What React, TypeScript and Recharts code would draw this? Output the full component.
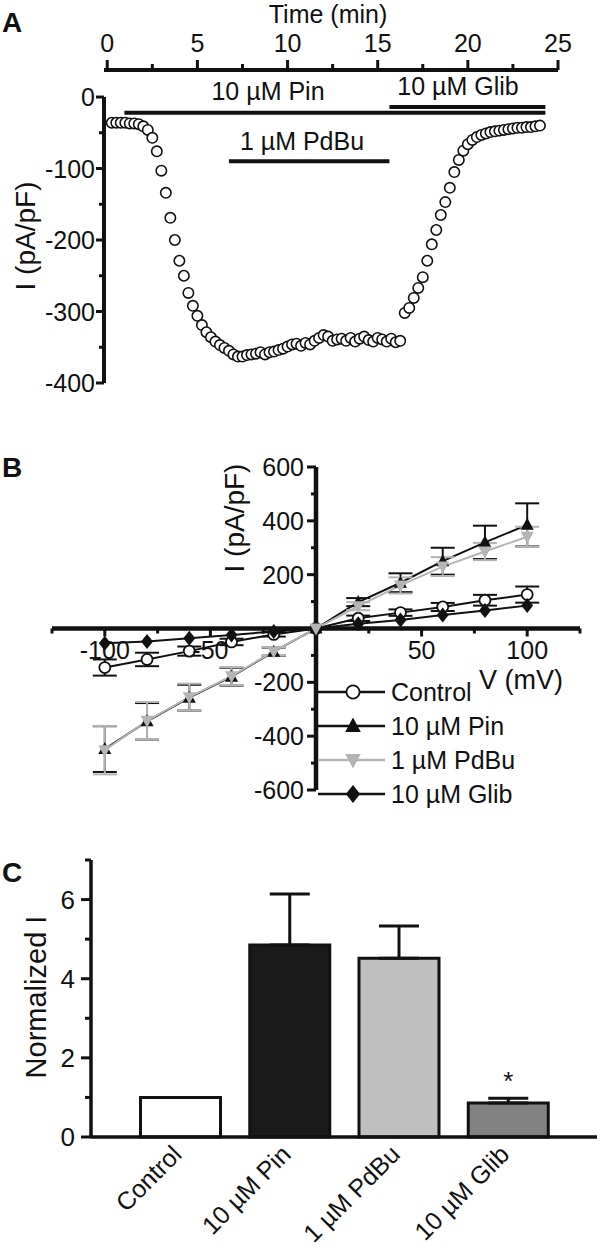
import React from "react";
import {
  ScatterChart,
  Scatter,
  LineChart,
  Line,
  BarChart,
  Bar,
  Cell,
  XAxis,
  YAxis,
  ReferenceLine,
  ErrorBar,
  Legend,
  LabelList,
} from "recharts";

/* ------------------------------------------------------------------ */
/*  Data                                                               */
/* ------------------------------------------------------------------ */

// Panel A – time course
const timeMin = [
  0.25, 0.5, 0.75, 1, 1.25, 1.5, 1.75, 2, 2.25, 2.5, 2.75, 3, 3.25, 3.5, 3.75, 4,
  4.25, 4.5, 4.75, 5, 5.25, 5.5, 5.75, 6, 6.25, 6.5, 6.75, 7, 7.25, 7.5, 7.75, 8,
  8.25, 8.5, 8.75, 9, 9.25, 9.5, 9.75, 10, 10.25, 10.5, 10.75, 11, 11.25, 11.5, 11.75, 12,
  12.25, 12.5, 12.75, 13, 13.25, 13.5, 13.75, 14, 14.25, 14.5, 14.75, 15, 15.25, 15.5, 15.75, 16,
  16.25, 16.5, 16.75, 17, 17.25, 17.5, 17.75, 18, 18.25, 18.5, 18.75, 19, 19.25, 19.5, 19.75, 20,
  20.25, 20.5, 20.75, 21, 21.25, 21.5, 21.75, 22, 22.25, 22.5, 22.75, 23, 23.25, 23.5, 23.75, 24,
];
const currentPaPf = [
  -36, -36, -36, -36, -37, -37, -38, -41, -46, -57, -76, -103, -134, -169, -200, -229,
  -250, -274, -292, -306, -319, -329, -336, -342, -347, -351, -355, -360, -363, -363, -361, -360,
  -359, -357, -360, -357, -356, -354, -352, -349, -346, -345, -348, -344, -346, -341, -337, -333,
  -335, -341, -339, -338, -341, -337, -342, -338, -335, -340, -342, -337, -339, -342, -338, -343,
  -341, -302, -295, -281, -267, -252, -229, -206, -186, -165, -147, -127, -105, -88, -75, -66,
  -60, -56, -53, -51, -49, -48, -47, -46, -45, -44, -43, -43, -42, -42, -41, -40,
];
const timeTicks = [0, 2.5, 5, 7.5, 10, 12.5, 15, 17.5, 20, 22.5, 25];
const currentTicksA = [0, -50, -100, -150, -200, -250, -300, -350, -400];

// drug application bars (start / end in min, drawn at a level in pA/pF)
const drugNames = ["10 µM Pin", "10 µM Glib", "1 µM PdBu"];
const drugStart = [0.95, 15.65, 6.75];
const drugEnd = [24.3, 24.3, 15.65];
const drugLevel = [-22, -14, -90];

// Panel B – I/V relationship
const voltageMv = [-100, -80, -60, -40, -20, 0, 20, 40, 60, 80, 100];
const controlI = [-145, -115, -84, -50, -22, 0, 38, 59, 80, 105, 126];
const controlSem = [30, 25, 17, 12, 8, 0, 10, 12, 15, 20, 30];
const pinI = [-448, -345, -257, -179, -86, 0, 98, 170, 250, 320, 385];
const pinSem = [85, 68, 48, 33, 15, 0, 15, 35, 50, 62, 80];
const pdbuI = [-452, -343, -255, -177, -85, 0, 83, 160, 230, 286, 341];
const pdbuSem = [90, 70, 50, 33, 15, 0, 15, 30, 35, 32, 37];
const glibI = [-55, -48, -36, -24, -11, 0, 18, 32, 50, 67, 85];
const voltageTicks = [-125, -100, -75, -50, -25, 25, 50, 75, 100, 125];
const currentTicksB = [-600, -500, -400, -300, -200, -100, 100, 200, 300, 400, 500, 600];

// Panel C – normalized current
const groups = ["Control", "10 µM Pin", "1 µM PdBu", "10 µM Glib"];
const normalizedI = [1.0, 4.85, 4.52, 0.86];
const normalizedSem = [0, 1.29, 0.81, 0.12];
const significance = ["", "", "", "*"];
const normTicks = [0, 1, 2, 3, 4, 5, 6, 7];

/* ------------------------------------------------------------------ */
/*  Styling                                                            */
/* ------------------------------------------------------------------ */

const FONT = "'Liberation Sans', Arial, Helvetica, sans-serif";
const INK = "#111";
const GREY = "#b4b4b4";
const BAR_FILLS = ["#ffffff", "#1a1a1a", "#bfbfbf", "#828282"];

const B_PLOT_W = 528;
const B_PLOT_H = 323;

/* ------------------------------------------------------------------ */
/*  Ticks and markers                                                  */
/* ------------------------------------------------------------------ */

function TimeTick(props: any) {
  const { x, y, payload } = props;
  const major = payload.value % 5 === 0;
  return (
    <g>
      <line x1={x} x2={x} y1={y} y2={y - (major ? 10 : 6)} stroke={INK} strokeWidth={3} />
      {major && (
        <text x={x} y={y - 18} textAnchor="middle" fontSize={25} fontFamily={FONT} fill={INK}>
          {payload.value}
        </text>
      )}
    </g>
  );
}

function CurrentTickA(props: any) {
  const { x, y, payload } = props;
  const major = payload.value % 100 === 0;
  return (
    <g>
      <line x1={x - (major ? 8 : 5)} x2={x} y1={y} y2={y} stroke={INK} strokeWidth={3} />
      {major && (
        <text x={x - 9} y={y + 9} textAnchor="end" fontSize={25} fontFamily={FONT} fill={INK}>
          {payload.value}
        </text>
      )}
    </g>
  );
}

// axes of panel B cross at the origin, so ticks are moved to the zero lines
function VoltageTick(props: any) {
  const { x, y, payload } = props;
  const y0 = y - B_PLOT_H / 2;
  const major = payload.value % 50 === 0;
  return (
    <g>
      <line x1={x} x2={x} y1={y0} y2={y0 + (major ? 8 : 5)} stroke={INK} strokeWidth={3} />
      {major && (
        <text x={x} y={y0 + 30} textAnchor="middle" fontSize={25} fontFamily={FONT} fill={INK}>
          {payload.value}
        </text>
      )}
    </g>
  );
}

function CurrentTickB(props: any) {
  const { x, y, payload } = props;
  const x0 = x + B_PLOT_W / 2;
  const major = payload.value % 200 === 0;
  return (
    <g>
      <line x1={x0 - (major ? 9 : 5)} x2={x0} y1={y} y2={y} stroke={INK} strokeWidth={3} />
      {major && (
        <text x={x0 - 12} y={y + 9} textAnchor="end" fontSize={25} fontFamily={FONT} fill={INK}>
          {payload.value}
        </text>
      )}
    </g>
  );
}

function NormTick(props: any) {
  const { x, y, payload } = props;
  const major = payload.value % 2 === 0;
  return (
    <g>
      <line x1={x - (major ? 10 : 6)} x2={x} y1={y} y2={y} stroke={INK} strokeWidth={3} />
      {major && (
        <text x={x - 16} y={y + 9} textAnchor="end" fontSize={26} fontFamily={FONT} fill={INK}>
          {payload.value}
        </text>
      )}
    </g>
  );
}

function GroupTick(props: any) {
  const { x, y, payload } = props;
  const ax = x + 3;
  const ay = y + 19;
  return (
    <text
      x={ax}
      y={ay}
      transform={`rotate(-45 ${ax} ${ay})`}
      textAnchor="end"
      fontSize={25}
      fontFamily={FONT}
      fill={INK}
    >
      {payload.value}
    </text>
  );
}

type MarkerKind = "circle" | "up" | "down" | "diamond";

function Marker({
  kind,
  cx,
  cy,
  color,
  s = 1,
}: {
  kind: MarkerKind;
  cx: number;
  cy: number;
  color: string;
  s?: number;
}) {
  if (kind === "circle")
    return <circle cx={cx} cy={cy} r={5.5 * s} fill="#fff" stroke={INK} strokeWidth={1.8} />;
  if (kind === "up")
    return (
      <path
        d={`M${cx},${cy - 7 * s} L${cx + 6.5 * s},${cy + 5 * s} L${cx - 6.5 * s},${cy + 5 * s} Z`}
        fill={color}
      />
    );
  if (kind === "down")
    return (
      <path
        d={`M${cx},${cy + 7 * s} L${cx + 6.5 * s},${cy - 5 * s} L${cx - 6.5 * s},${cy - 5 * s} Z`}
        fill={color}
      />
    );
  return (
    <path
      d={`M${cx},${cy - 7.5 * s} L${cx + 6 * s},${cy} L${cx},${cy + 7.5 * s} L${cx - 6 * s},${cy} Z`}
      fill={color}
    />
  );
}

const dotOf = (kind: MarkerKind, color: string) => (p: any) =>
  <Marker key={`${kind}-${p.index}`} kind={kind} cx={p.cx} cy={p.cy} color={color} />;

const IV_SERIES: { key: string; name: string; kind: MarkerKind; color: string }[] = [
  { key: "control", name: "Control", kind: "circle", color: INK },
  { key: "pin", name: "10 µM Pin", kind: "up", color: INK },
  { key: "pdbu", name: "1 µM PdBu", kind: "down", color: GREY },
  { key: "glib", name: "10 µM Glib", kind: "diamond", color: INK },
];

function IvLegend() {
  return (
    <svg width={240} height={140}>
      {IV_SERIES.map((s, i) => {
        const ry = 17 + i * 34;
        return (
          <g key={s.key}>
            <line x1={0} x2={67} y1={ry} y2={ry} stroke={s.color} strokeWidth={2.5} />
            <Marker kind={s.kind} cx={35} cy={ry} color={s.color} s={1.2} />
            <text x={73} y={ry + 9} fontSize={25} fontFamily={FONT} fill={INK}>
              {s.name}
            </text>
          </g>
        );
      })}
    </svg>
  );
}

/* ------------------------------------------------------------------ */
/*  Component                                                          */
/* ------------------------------------------------------------------ */

export default function App() {
  const timeCourse = timeMin.map((t, i) => ({ t, i: currentPaPf[i] }));

  const ivData = voltageMv.map((v, i) => ({
    v,
    control: controlI[i],
    controlErr: controlSem[i],
    pin: pinI[i],
    pinErr: pinSem[i],
    pdbu: pdbuI[i],
    pdbuErr: pdbuSem[i],
    glib: glibI[i],
  }));

  const barData = groups.map((name, i) => ({
    name,
    value: normalizedI[i],
    err: [0, normalizedSem[i]],
    sig: significance[i],
  }));

  const textStyle = { fontFamily: FONT, fill: INK };

  return (
    <div style={{ position: "absolute", left: 0, top: 0, width: 600, height: 1249, background: "#fff" }}>
      {/* ---------------- A ---------------- */}
      <div style={{ position: "absolute", left: 0, top: 0 }}>
        <ScatterChart width={600} height={400} margin={{ top: 40, right: 42, bottom: 17, left: 44 }}>
          <XAxis
            type="number"
            dataKey="t"
            orientation="top"
            domain={[-0.18, 25]}
            ticks={timeTicks}
            height={30}
            tickSize={0}
            tickMargin={0}
            tick={TimeTick}
            axisLine={{ stroke: INK, strokeWidth: 4 }}
            tickLine={false}
          />
          <YAxis
            type="number"
            dataKey="i"
            domain={[-400, 37.8]}
            ticks={currentTicksA}
            width={60}
            tickSize={0}
            tickMargin={0}
            tick={CurrentTickA}
            axisLine={false}
            tickLine={false}
            allowDataOverflow
          />
          <ReferenceLine
            segment={[{ x: -0.18, y: 0 }, { x: -0.18, y: -400 }]}
            stroke={INK}
            strokeWidth={4}
          />
          {drugNames.map((d, k) => (
            <ReferenceLine
              key={d}
              segment={[{ x: drugStart[k], y: drugLevel[k] }, { x: drugEnd[k], y: drugLevel[k] }]}
              stroke={INK}
              strokeWidth={4}
            />
          ))}
          <Scatter
            data={timeCourse}
            isAnimationActive={false}
            shape={(p: any) => (
              <circle cx={p.cx} cy={p.cy} r={5.2} fill="#fff" stroke={INK} strokeWidth={1.6} />
            )}
          />
        </ScatterChart>
      </div>

      {/* ---------------- B ---------------- */}
      <div style={{ position: "absolute", left: 0, top: 440 }}>
        <LineChart width={600} height={380} data={ivData} margin={{ top: 27, right: 20, bottom: 0, left: 0 }}>
          <XAxis
            type="number"
            dataKey="v"
            domain={[-125, 125]}
            ticks={voltageTicks}
            height={30}
            tickSize={0}
            tickMargin={0}
            tick={VoltageTick}
            axisLine={false}
            tickLine={false}
          />
          <YAxis
            type="number"
            domain={[-600, 600]}
            ticks={currentTicksB}
            width={52}
            tickSize={0}
            tickMargin={0}
            tick={CurrentTickB}
            axisLine={false}
            tickLine={false}
          />
          <ReferenceLine y={0} stroke={INK} strokeWidth={4.5} />
          <ReferenceLine x={0} stroke={INK} strokeWidth={4.5} />
          <Line
            dataKey="control"
            stroke={INK}
            strokeWidth={2}
            dot={dotOf("circle", INK)}
            activeDot={false}
            isAnimationActive={false}
          >
            <ErrorBar dataKey="controlErr" direction="y" width={12} stroke={INK} strokeWidth={2} />
          </Line>
          <Line
            dataKey="glib"
            stroke={INK}
            strokeWidth={2}
            dot={dotOf("diamond", INK)}
            activeDot={false}
            isAnimationActive={false}
          />
          <Line
            dataKey="pin"
            stroke={INK}
            strokeWidth={2}
            dot={dotOf("up", INK)}
            activeDot={false}
            isAnimationActive={false}
          >
            <ErrorBar dataKey="pinErr" direction="y" width={12} stroke={INK} strokeWidth={2} />
          </Line>
          <Line
            dataKey="pdbu"
            stroke={GREY}
            strokeWidth={2}
            dot={dotOf("down", GREY)}
            activeDot={false}
            isAnimationActive={false}
          >
            <ErrorBar dataKey="pdbuErr" direction="y" width={12} stroke={GREY} strokeWidth={2} />
          </Line>
          <Legend
            layout="vertical"
            align="center"
            verticalAlign="middle"
            wrapperStyle={{ left: 318, top: 235, width: 240, height: 140 }}
            content={IvLegend}
          />
        </LineChart>
      </div>

      {/* ---------------- C ---------------- */}
      <div style={{ position: "absolute", left: 0, top: 850 }}>
        <BarChart width={600} height={399} data={barData} margin={{ top: 10, right: 3, bottom: 0, left: 0 }}>
          <XAxis
            xAxisId="frame"
            type="number"
            domain={[0, 2]}
            ticks={[0, 1, 2]}
            height={0}
            tick={false}
            tickSize={9}
            axisLine={false}
            tickLine={{ stroke: INK, strokeWidth: 3 }}
            allowDataOverflow
          />
          <XAxis
            xAxisId="cat"
            dataKey="name"
            type="category"
            padding={{ left: 34.5, right: 34.5 }}
            height={112}
            tickSize={0}
            tickMargin={0}
            tick={GroupTick}
            interval={0}
            axisLine={{ stroke: INK, strokeWidth: 3.5 }}
            tickLine={false}
          />
          <YAxis
            type="number"
            domain={[0, 7]}
            ticks={normTicks}
            width={91}
            tickSize={0}
            tickMargin={0}
            tick={NormTick}
            axisLine={{ stroke: INK, strokeWidth: 3.5 }}
            tickLine={false}
          />
          <Bar
            xAxisId="cat"
            dataKey="value"
            barSize={80}
            stroke={INK}
            strokeWidth={3}
            isAnimationActive={false}
          >
            {barData.map((d, i) => (
              <Cell key={d.name} fill={BAR_FILLS[i]} />
            ))}
            <ErrorBar dataKey="err" direction="y" width={20} stroke={INK} strokeWidth={3} />
            <LabelList
              dataKey="sig"
              content={(p: any) =>
                p.value ? (
                  <text
                    x={p.x + p.width / 2}
                    y={p.y - 13}
                    textAnchor="middle"
                    fontSize={26}
                    fontFamily={FONT}
                    fill={INK}
                  >
                    {p.value}
                  </text>
                ) : null
              }
            />
          </Bar>
        </BarChart>
      </div>

      {/* ---------------- titles ---------------- */}
      <svg
        width={600}
        height={1249}
        style={{ position: "absolute", left: 0, top: 0, pointerEvents: "none" }}
      >
        <text x={2} y={32} fontSize={28} fontWeight="bold" {...textStyle}>A</text>
        <text x={328} y={23} fontSize={25} textAnchor="middle" {...textStyle}>Time (min)</text>
        <text x={35} y={236} fontSize={28} textAnchor="middle" transform="rotate(-90 35 236)" {...textStyle}>
          I (pA/pF)
        </text>
        <text x={268} y={100} fontSize={25} textAnchor="middle" {...textStyle}>{drugNames[0]}</text>
        <text x={458} y={95} fontSize={25} textAnchor="middle" {...textStyle}>{drugNames[1]}</text>
        <text x={302} y={150} fontSize={25} textAnchor="middle" {...textStyle}>{drugNames[2]}</text>

        <text x={2} y={477} fontSize={28} fontWeight="bold" {...textStyle}>B</text>
        <text x={244} y={518} fontSize={28} textAnchor="middle" transform="rotate(-90 244 518)" {...textStyle}>
          I (pA/pF)
        </text>
        <text x={521} y={689} fontSize={27} textAnchor="middle" {...textStyle}>V (mV)</text>

        <text x={2} y={882} fontSize={28} fontWeight="bold" {...textStyle}>C</text>
        <text x={46} y={997} fontSize={29} textAnchor="middle" transform="rotate(-90 46 997)" {...textStyle}>
          Normalized I
        </text>
      </svg>
    </div>
  );
}
